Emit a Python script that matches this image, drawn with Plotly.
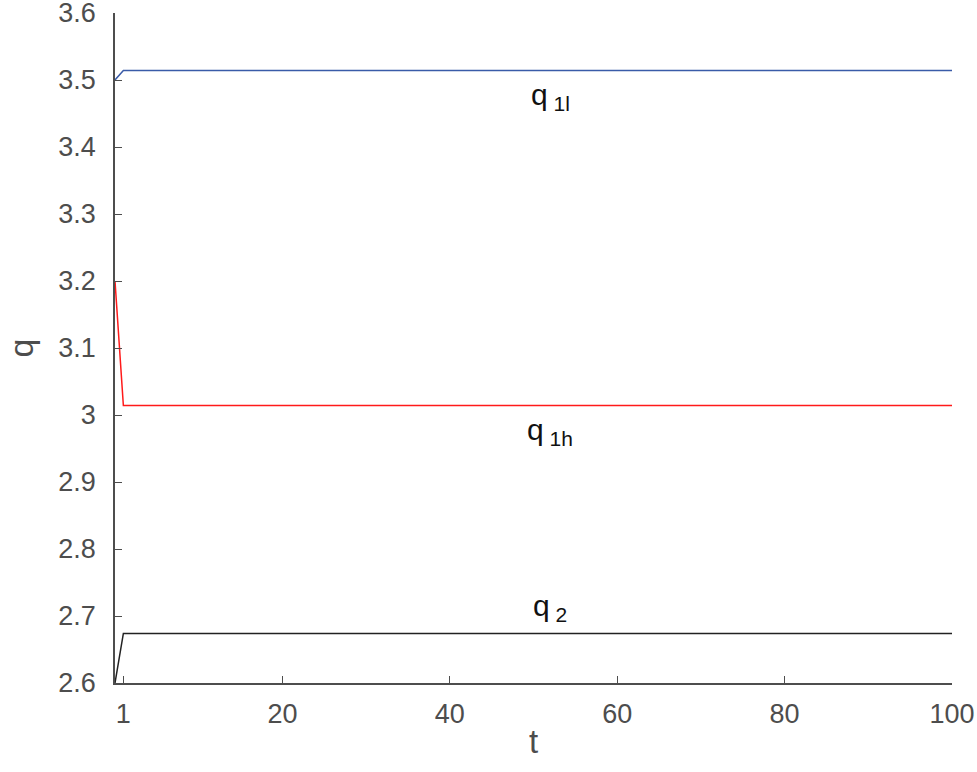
import plotly.graph_objects as go

# time samples and the three price paths
t = [0, 1, 100]
q_1l = [3.5, 3.514, 3.514]
q_1h = [3.2, 3.014, 3.014]
q_2 = [2.6, 2.674, 2.674]

x_ticks = [1, 20, 40, 60, 80, 100]
y_ticks = [2.6, 2.7, 2.8, 2.9, 3.0, 3.1, 3.2, 3.3, 3.4, 3.5, 3.6]
y_tick_text = ["2.6", "2.7", "2.8", "2.9", "3", "3.1", "3.2", "3.3", "3.4", "3.5", "3.6"]

# label text and where it sits (t, q)
labels = ["q<sub> 1l</sub>", "q<sub> 1h</sub>", "q<sub> 2</sub>"]
label_t = [52, 52, 52]
label_q = [3.476, 2.976, 2.712]

axis_color = "#4d4d4d"
font_family = "Liberation Sans, Arial, sans-serif"

fig = go.Figure()
fig.add_trace(go.Scatter(x=t, y=q_1l, mode="lines", line=dict(color="#3a5ba8", width=1.5)))
fig.add_trace(go.Scatter(x=t, y=q_1h, mode="lines", line=dict(color="#ff1a1a", width=1.5)))
fig.add_trace(go.Scatter(x=t, y=q_2, mode="lines", line=dict(color="#222222", width=1.5)))

for txt, lx, ly in zip(labels, label_t, label_q):
    fig.add_annotation(
        x=lx, y=ly, text=txt, showarrow=False,
        font=dict(family=font_family, size=30, color="#111111"),
    )

fig.update_layout(
    width=977,
    height=772,
    paper_bgcolor="white",
    plot_bgcolor="white",
    showlegend=False,
    margin=dict(l=115, r=25, t=13, b=89),
    font=dict(family=font_family, color=axis_color),
    xaxis=dict(
        range=[0, 100],
        tickvals=x_ticks,
        ticks="inside",
        ticklen=7,
        tickcolor=axis_color,
        showgrid=False,
        zeroline=False,
        showline=True,
        linecolor=axis_color,
        linewidth=1.5,
        automargin=False,
        ticklabeloverflow="allow",
        ticklabelstandoff=6,
        tickfont=dict(size=27, color=axis_color),
        title=dict(text="t", font=dict(size=33, color=axis_color), standoff=2),
    ),
    yaxis=dict(
        range=[2.6, 3.6],
        tickvals=y_ticks,
        ticktext=y_tick_text,
        ticks="inside",
        ticklen=7,
        tickcolor=axis_color,
        showgrid=False,
        zeroline=False,
        showline=True,
        linecolor=axis_color,
        linewidth=1.5,
        automargin=False,
        ticklabeloverflow="allow",
        ticklabelstandoff=12,
        tickfont=dict(size=27, color=axis_color),
        title=dict(text="q", font=dict(size=34, color=axis_color), standoff=14),
    ),
)

# drop the page margin so the figure sits at the window's corner
fig.write_html(
    "out.html",
    config={"displayModeBar": False},
    post_script="document.body.style.margin='0';",
)
